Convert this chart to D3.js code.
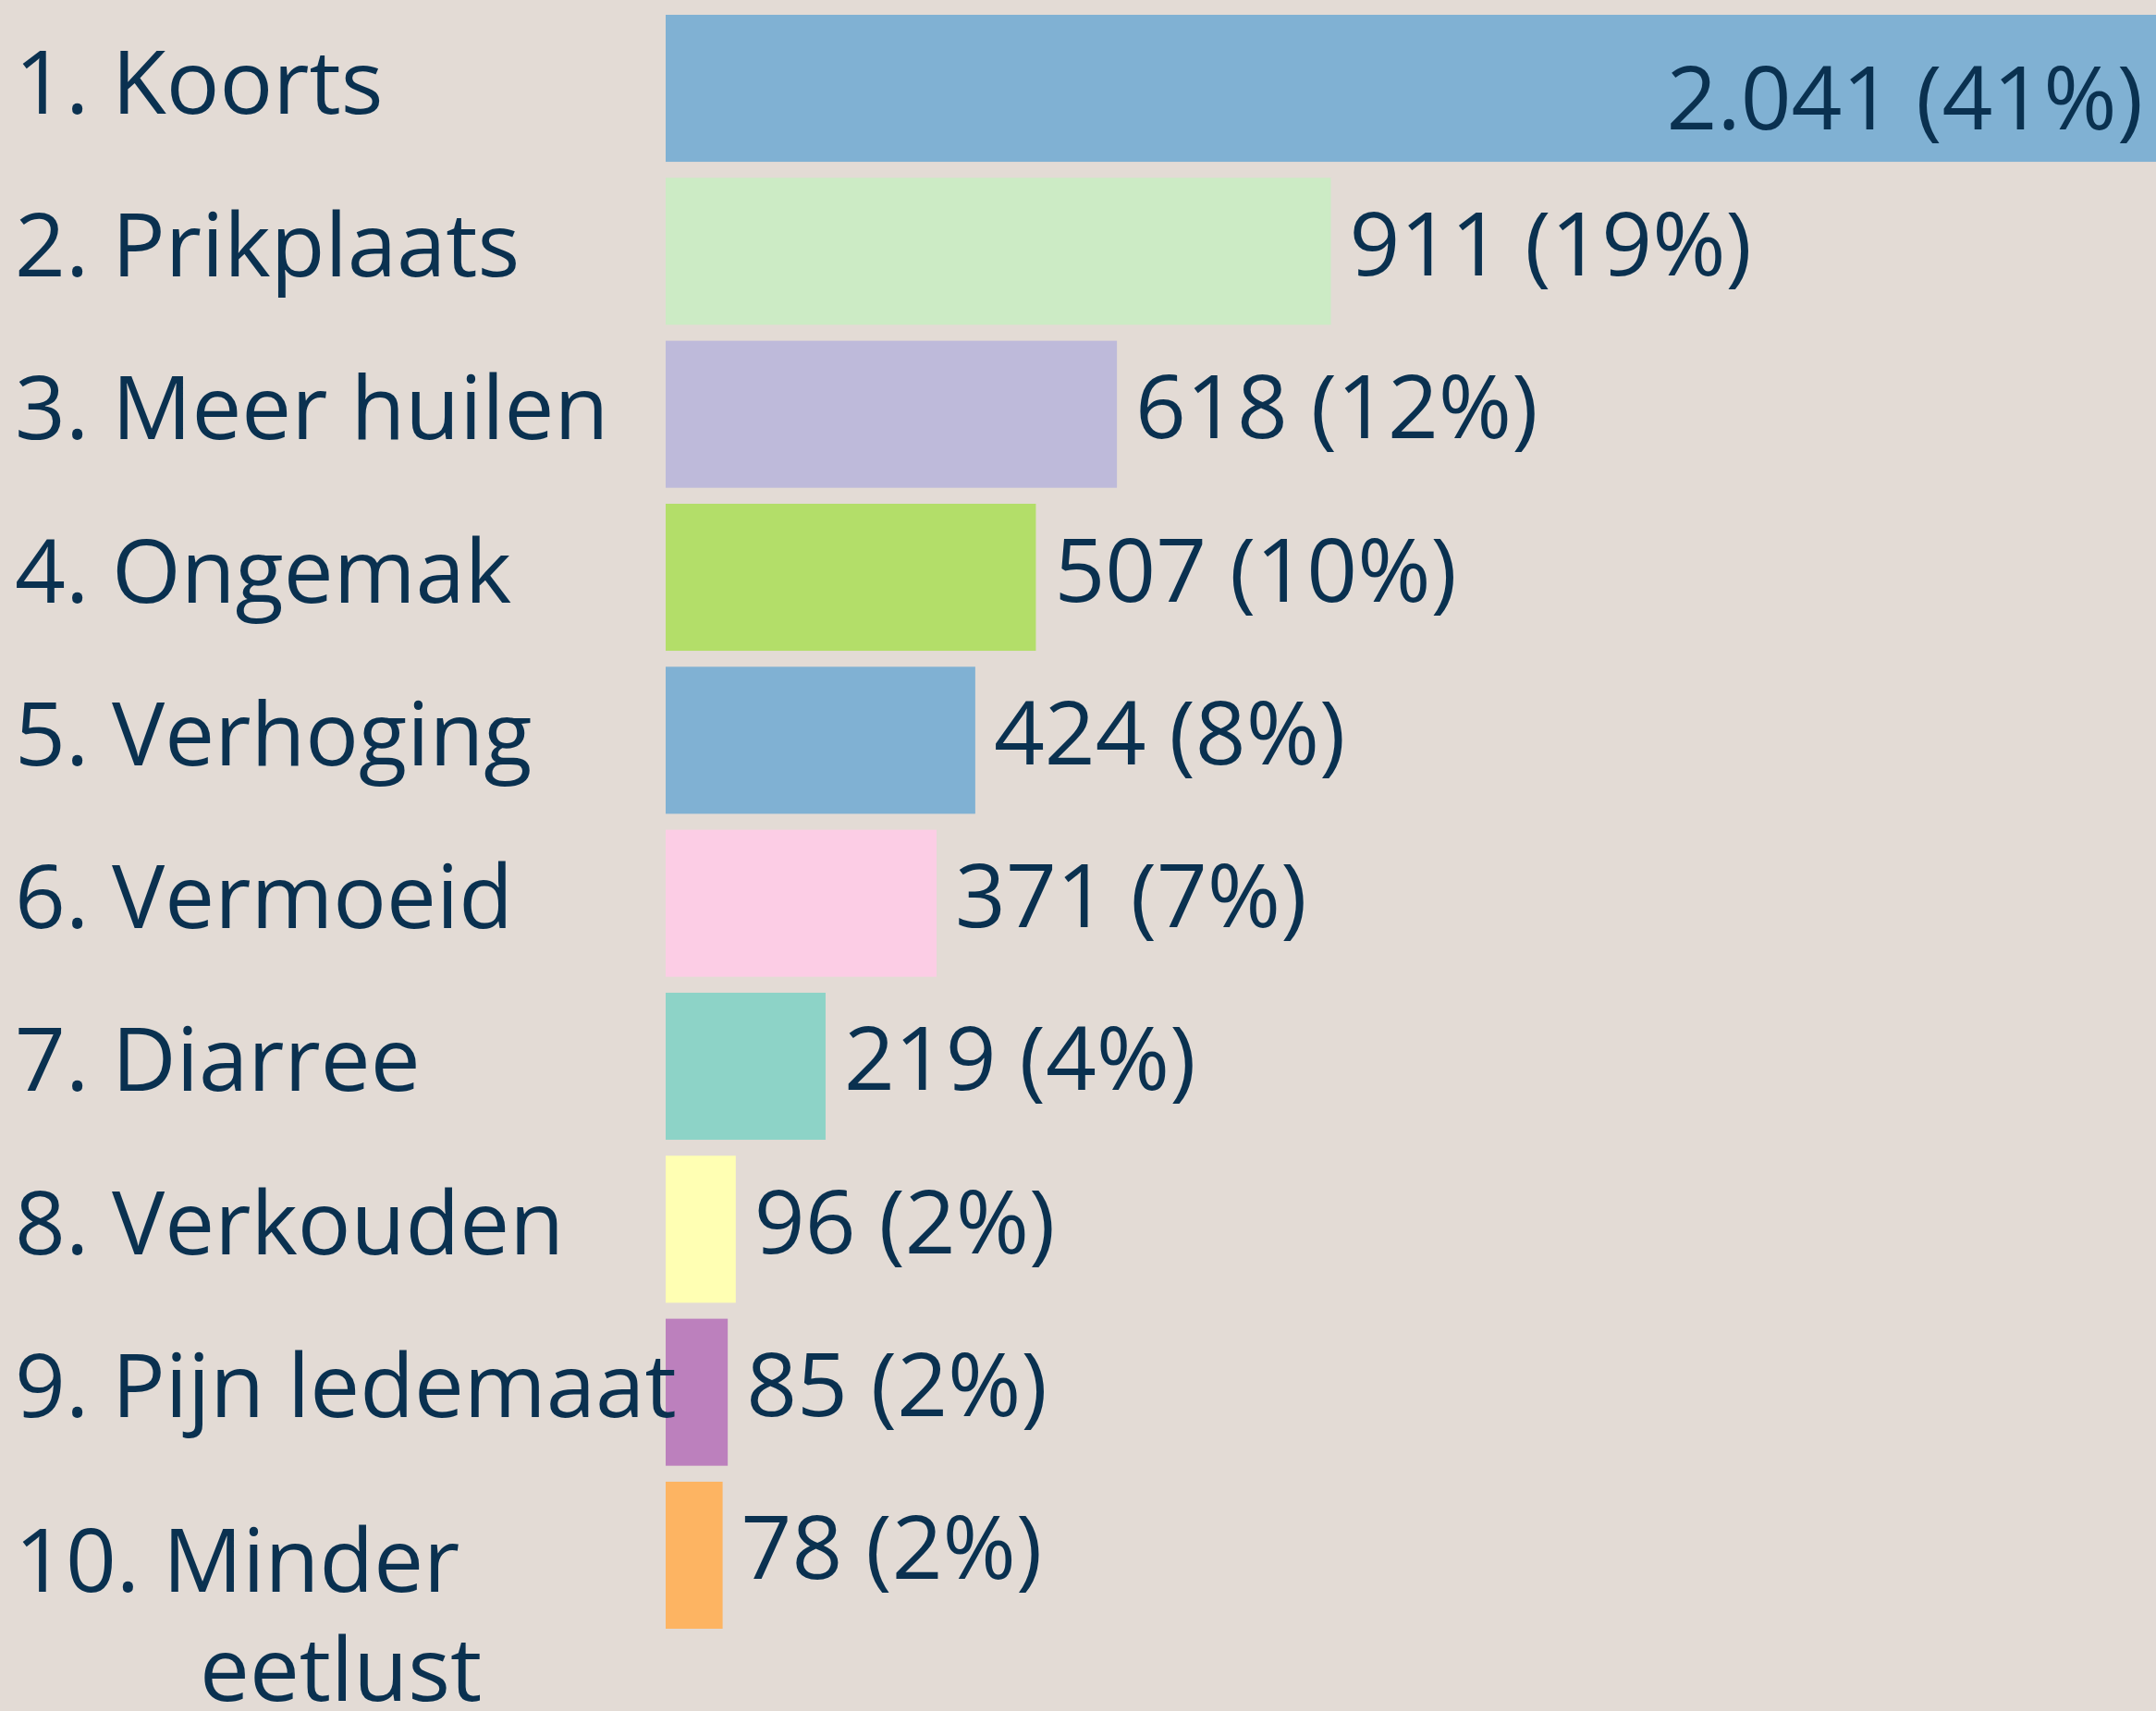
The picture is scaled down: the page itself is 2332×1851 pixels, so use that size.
<!DOCTYPE html>
<html>
<head>
<meta charset="utf-8">
<script src="https://cdn.jsdelivr.net/npm/d3@7"></script>
<style>
  body { margin: 0; background: #e3dbd5; }
  svg { display: block; }
</style>
</head>
<body>
<div id="chart"></div>
<script>

// data
var categories = ["1. Koorts", "2. Prikplaats", "3. Meer huilen", "4. Ongemak", "5. Verhoging",
                  "6. Vermoeid", "7. Diarree", "8. Verkouden", "9. Pijn ledemaat", "10. Minder\neetlust"];
var counts   = [2041, 911, 618, 507, 424, 371, 219, 96, 85, 78];
var percents = [41, 19, 12, 10, 8, 7, 4, 2, 2, 2];
var colors   = ["#80b1d3", "#ccebc5", "#bebada", "#b3de69", "#80b1d3",
                "#fccde5", "#8dd3c7", "#ffffb3", "#bc80bd", "#fdb462"];

var width = 2332, height = 1851;
var textColor = "#0a3150";

var data = categories.map(function(c, i) {
  return {label: c, count: counts[i], pct: percents[i], color: colors[i]};
});

var svg = d3.select("#chart")
  .append("svg")
    .attr("width", width)
    .attr("height", height)
    .style("font-family", "'Open Sans', sans-serif");

svg.append("rect")
  .attr("width", width)
  .attr("height", height)
  .attr("fill", "#e3dbd5");

// scales
var x = d3.scaleLinear()
  .domain([0, 2041])
  .range([720, width]);

var y = d3.scaleBand()
  .domain(categories)
  .range([16, 1762])
  .paddingInner(0.098)
  .paddingOuter(0);

// bars
svg.selectAll(".bar")
  .data(data)
  .enter()
  .append("rect")
    .attr("class", "bar")
    .attr("x", x(0))
    .attr("y", function(d) { return y(d.label); })
    .attr("width", function(d) { return x(d.count) - x(0); })
    .attr("height", y.bandwidth())
    .attr("fill", function(d) { return d.color; });

// category labels (left)
var labels = svg.selectAll(".label")
  .data(data)
  .enter()
  .append("text")
    .attr("class", "label")
    .attr("fill", textColor)
    .style("font-size", "96px")
    .attr("y", function(d, i) {
      var mid = y(d.label) + y.bandwidth() / 2;
      return i === data.length - 1 ? mid + 40 : mid + 27;
    });

labels.each(function(d) {
  var lines = d.label.split("\n");
  var t = d3.select(this);
  lines.forEach(function(line, j) {
    t.append("tspan")
      .attr("x", j === 0 ? 16 : 216)
      .attr("dy", j === 0 ? 0 : 118)
      .text(line);
  });
});

// value labels
var fmt = d3.formatLocale({decimal: ",", thousands: ".", grouping: [3], currency: ["€", ""]}).format(",d");

function inside(d) { return x(d.count) + 450 > width; }

svg.selectAll(".value")
  .data(data)
  .enter()
  .append("text")
    .attr("class", "value")
    .attr("fill", textColor)
    .style("font-size", "96px")
    .attr("y", function(d) { return y(d.label) + y.bandwidth() / 2 + (inside(d) ? 44 : 26); })
    .attr("x", function(d) {
      // the largest bar runs to the edge: put its label inside
      return inside(d) ? x(d.count) - 14 : x(d.count) + 20;
    })
    .attr("text-anchor", function(d) { return inside(d) ? "end" : "start"; })
    .text(function(d) { return fmt(d.count) + " (" + d.pct + "%)"; });

</script>
</body>
</html>
